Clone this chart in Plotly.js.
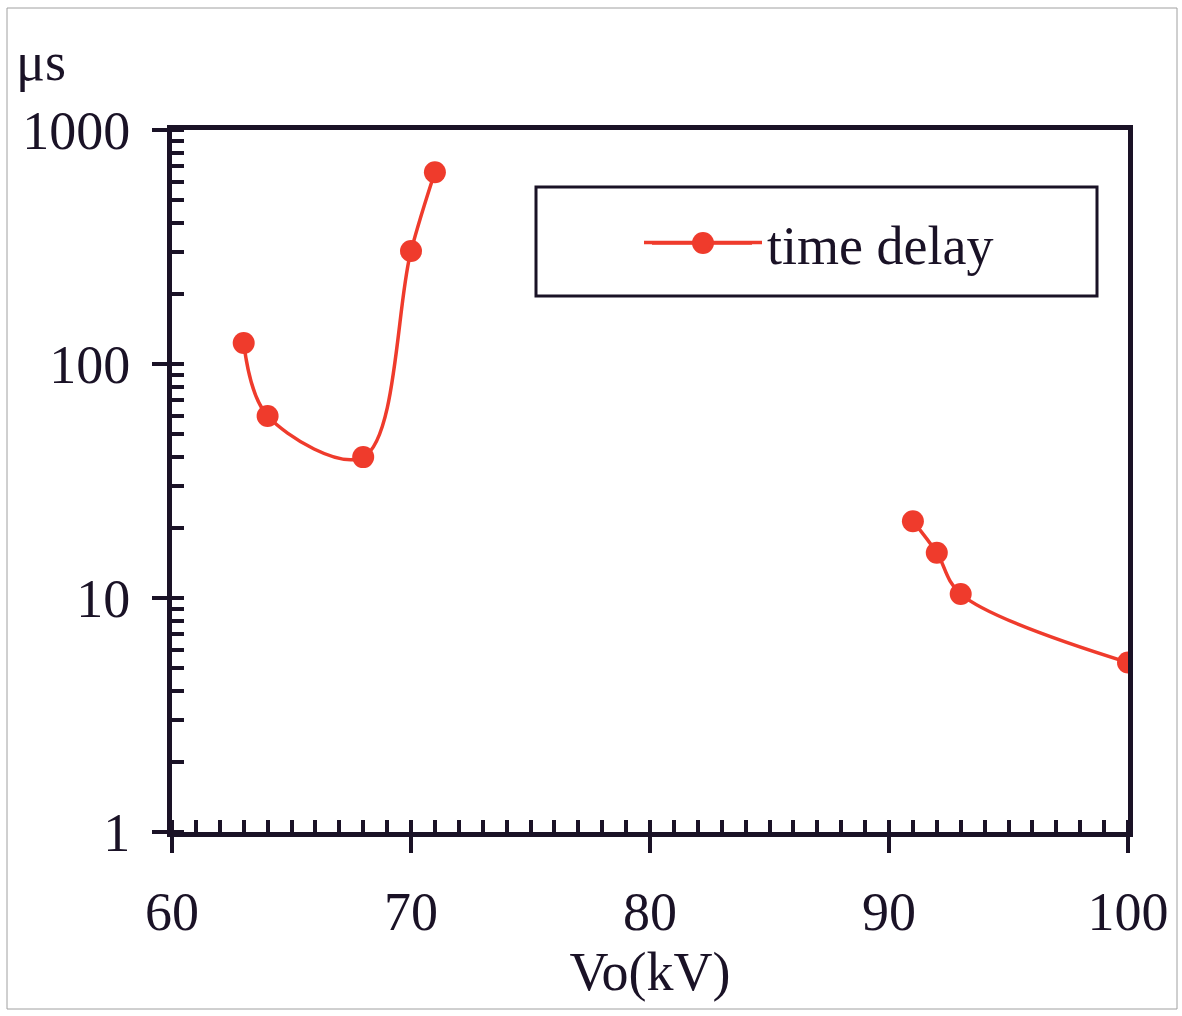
<!DOCTYPE html>
<html>
<head>
<meta charset="utf-8">
<script src="https://cdn.plot.ly/plotly-3.0.1.min.js"></script>
<style>html,body{margin:0;padding:0;background:#fff;}#chart{width:1182px;height:1016px;}</style>
</head>
<body>
<div id="chart"></div>
<script>
// Data
var voltageKV = [63, 64, 68, 70, 71, null, 91, 92, 93, 100];
var timeDelayUs = [123, 60, 40, 304, 660, null, 21.3, 15.6, 10.4, 5.3];
var seriesName = "time delay";
var yTickVals = [1, 10, 100, 1000];
var yTickText = ["1", "10", "100", "1000"];
var xTickVals = [60, 70, 80, 90, 100];
var xTickText = ["60", "70", "80", "90", "100"];

var RED = "#ef3b2c";
var INK = "#1a1226";
var FONT = "Liberation Serif, Times New Roman, serif";
var FS = 54;

// plot area in px: x 172..1128, y 130..832
function px(x) { return (x - 172) / 956; }
function py(y) { return (832 - y) / 702; }

var trace = {
  x: voltageKV,
  y: timeDelayUs,
  name: seriesName,
  type: "scatter",
  mode: "lines+markers",
  connectgaps: false,
  line: { color: RED, width: 3.5, shape: "spline", smoothing: 1 },
  marker: { color: RED, size: 22 }
};

var layout = {
  width: 1182,
  height: 1016,
  margin: { l: 172, r: 54, t: 130, b: 184 },
  paper_bgcolor: "#ffffff",
  plot_bgcolor: "#ffffff",
  font: { family: FONT, size: FS, color: INK },
  showlegend: true,
  legend: {
    x: px(639), y: py(243), xanchor: "left", yanchor: "middle",
    bgcolor: "rgba(0,0,0,0)", borderwidth: 0,
    font: { family: FONT, size: FS, color: INK },
    itemwidth: 118
  },
  xaxis: {
    range: [60, 100],
    tickvals: xTickVals, ticktext: xTickText,
    ticks: "outside", ticklen: 16, tickwidth: 4, tickcolor: INK,
    ticklabelstandoff: 12,
    minor: { dtick: 1, ticks: "inside", ticklen: 12, tickwidth: 4, tickcolor: INK, showgrid: false },
    showline: true, linewidth: 5, linecolor: INK, mirror: true,
    showgrid: false, zeroline: false,
    tickfont: { family: FONT, size: FS, color: INK },
    title: { text: "Vo(kV)", font: { family: FONT, size: FS, color: INK }, standoff: 6 }
  },
  yaxis: {
    type: "log",
    range: [0, 3],
    tickvals: yTickVals, ticktext: yTickText,
    ticks: "outside", ticklen: 15, tickwidth: 4, tickcolor: INK,
    ticklabelstandoff: 11,
    minor: { dtick: "D1", ticks: "inside", ticklen: 12, tickwidth: 4, tickcolor: INK, showgrid: false },
    showline: true, linewidth: 5, linecolor: INK, mirror: true,
    showgrid: false, zeroline: false,
    tickfont: { family: FONT, size: FS, color: INK }
  },
  annotations: [
    { text: "μs", xref: "paper", yref: "paper", x: px(14), y: py(62),
      xanchor: "left", yanchor: "middle", showarrow: false,
      font: { family: FONT, size: FS, color: INK } }
  ],
  shapes: [
    // outer thin frame
    { type: "rect", xref: "paper", yref: "paper", x0: px(7), x1: px(1177), y0: py(1009), y1: py(8),
      line: { color: "#a0a0a0", width: 1 }, layer: "below" },
    // legend box
    { type: "rect", xref: "paper", yref: "paper", x0: px(536), x1: px(1097), y0: py(296), y1: py(187),
      line: { color: INK, width: 3 }, fillcolor: "rgba(0,0,0,0)", layer: "above" },
    // legend line extension and full-size marker
    { type: "line", xref: "paper", yref: "paper", x0: px(652), x1: px(752), y0: py(243), y1: py(243),
      line: { color: RED, width: 3.5 }, layer: "above" },
    { type: "circle", xref: "paper", yref: "paper", x0: px(692), x1: px(714), y0: py(254), y1: py(232),
      line: { color: RED, width: 0 }, fillcolor: RED, layer: "above" }
  ]
};

Plotly.newPlot("chart", [trace], layout, { displayModeBar: false, staticPlot: true });
</script>
</body>
</html>
